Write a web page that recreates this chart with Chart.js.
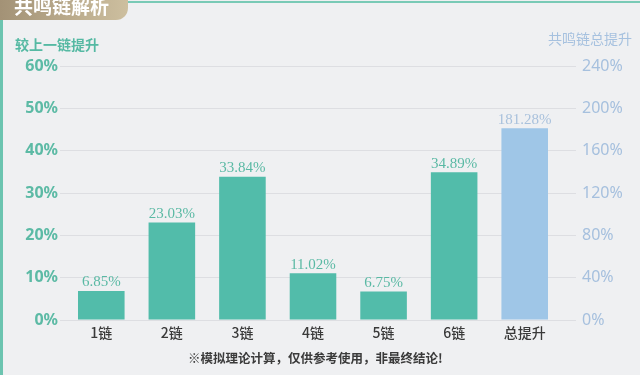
<!DOCTYPE html>
<html>
<head>
<meta charset="utf-8">
<script src="https://cdn.jsdelivr.net/npm/chart.js@4"></script>
<style>
  body { margin: 0; background: #eff0f2; }
  .wrap { position: relative; width: 640px; height: 375px; overflow: hidden; background: #eff0f2; }
  .tab {
    position: absolute; left: 0; top: 0; width: 128px; height: 20px;
    background: linear-gradient(90deg, #a39276, #cdbf9f);
    border-bottom-right-radius: 12px; overflow: hidden;
  }
  .tab span {
    position: absolute; left: 14px; top: -8px; color: #fff;
    font: bold 19px "Noto Sans CJK SC";
  }
  .topline { position: absolute; left: 128px; top: 1px; right: 0; height: 2px; background: #79cab6; }
  .leftline { position: absolute; left: 0; top: 20px; bottom: 0; width: 3px; background: #6cc4b0; }
  .ytitle { position: absolute; font: bold 14px "Noto Sans CJK SC"; }
  .note {
    position: absolute; left: 188px; top: 348px; color: #3b3b3b;
    font: bold 12.5px "Noto Sans CJK SC"; white-space: nowrap;
  }
  canvas { position: absolute; left: 0; top: 0; }
</style>
</head>
<body>
<div class="wrap">
  <canvas id="myChart" width="640" height="375"></canvas>
  <div class="tab"><span>共鸣链解析</span></div>
  <div class="topline"></div>
  <div class="leftline"></div>
  <div class="ytitle" style="left:15px;top:34px;color:#55b9a3;">较上一链提升</div>
  <div class="ytitle" style="left:548px;top:28px;color:#a6c1df;font-weight:normal;">共鸣链总提升</div>
  <div class="note">※模拟理论计算，仅供参考使用，非最终结论!</div>
</div>
<script>
const categories = ["1链", "2链", "3链", "4链", "5链", "6链", "总提升"];
const chainValues = [6.85, 23.03, 33.84, 11.02, 6.75, 34.89, null];
const totalValues = [null, null, null, null, null, null, 181.28];
const leftTicks = [0, 10, 20, 30, 40, 50, 60];
const rightTicks = [0, 40, 80, 120, 160, 200, 240];

const teal = "#52bcaa";
const blue = "#9fc6e7";

const valueLabels = {
  id: "valueLabels",
  afterDatasetsDraw(chart) {
    const ctx = chart.ctx;
    ctx.save();
    ctx.font = "15px 'Liberation Serif'";
    ctx.textAlign = "center";
    ctx.textBaseline = "bottom";
    chart.data.datasets.forEach((ds, di) => {
      const meta = chart.getDatasetMeta(di);
      meta.data.forEach((bar, i) => {
        if (ds.data[i] == null) return;
        ctx.fillStyle = ds.labelColor;
        ctx.fillText(ds.data[i].toFixed(2) + "%", bar.x, bar.y - 1);
      });
    });
    ctx.restore();
  },
};

const ctx = document.getElementById("myChart").getContext("2d");
new Chart(ctx, {
  type: "bar",
  data: {
    labels: categories,
    datasets: [
      {
        data: chainValues,
        yAxisID: "y",
        backgroundColor: teal,
        labelColor: "#5ab9a4",
        grouped: false,
        barPercentage: 0.66,
        categoryPercentage: 1,
      },
      {
        data: totalValues,
        yAxisID: "y2",
        backgroundColor: blue,
        labelColor: "#a9c1dc",
        grouped: false,
        barPercentage: 0.66,
        categoryPercentage: 1,
      },
    ],
  },
  options: {
    responsive: false,
    animation: false,
    layout: { padding: { top: 66, left: 0, right: 0, bottom: 0 } },
    plugins: { legend: { display: false }, tooltip: { enabled: false } },
    scales: {
      x: {
        grid: { display: false, drawTicks: false },
        border: { display: false },
        ticks: { color: "#3a3a3a", font: { size: 14, weight: "500", family: "Noto Sans CJK SC" }, padding: 4 },
        afterFit: (s) => { s.height = 55; },
      },
      y: {
        position: "left",
        min: 0,
        max: 60,
        afterBuildTicks: (s) => { s.ticks = leftTicks.map((v) => ({ value: v })); },
        grid: { color: "#dddee2", tickLength: 6, drawTicks: true },
        border: { display: false },
        ticks: {
          color: "#5cbaa5",
          padding: 2,
          font: { size: 16, weight: "bold", family: "Noto Sans" },
          callback: (v) => v + "%",
        },
        afterFit: (s) => { s.width = 66; },
      },
      y2: {
        position: "right",
        min: 0,
        max: 240,
        afterBuildTicks: (s) => { s.ticks = rightTicks.map((v) => ({ value: v })); },
        grid: { drawOnChartArea: false, color: "#dddee2", tickLength: 16 },
        border: { display: false },
        ticks: {
          color: "#a6c0de",
          padding: 6,
          font: { size: 16, family: "Noto Sans" },
          callback: (v) => v + "%",
        },
        afterFit: (s) => { s.width = 80; },
      },
    },
  },
  plugins: [valueLabels],
});
</script>
</body>
</html>
